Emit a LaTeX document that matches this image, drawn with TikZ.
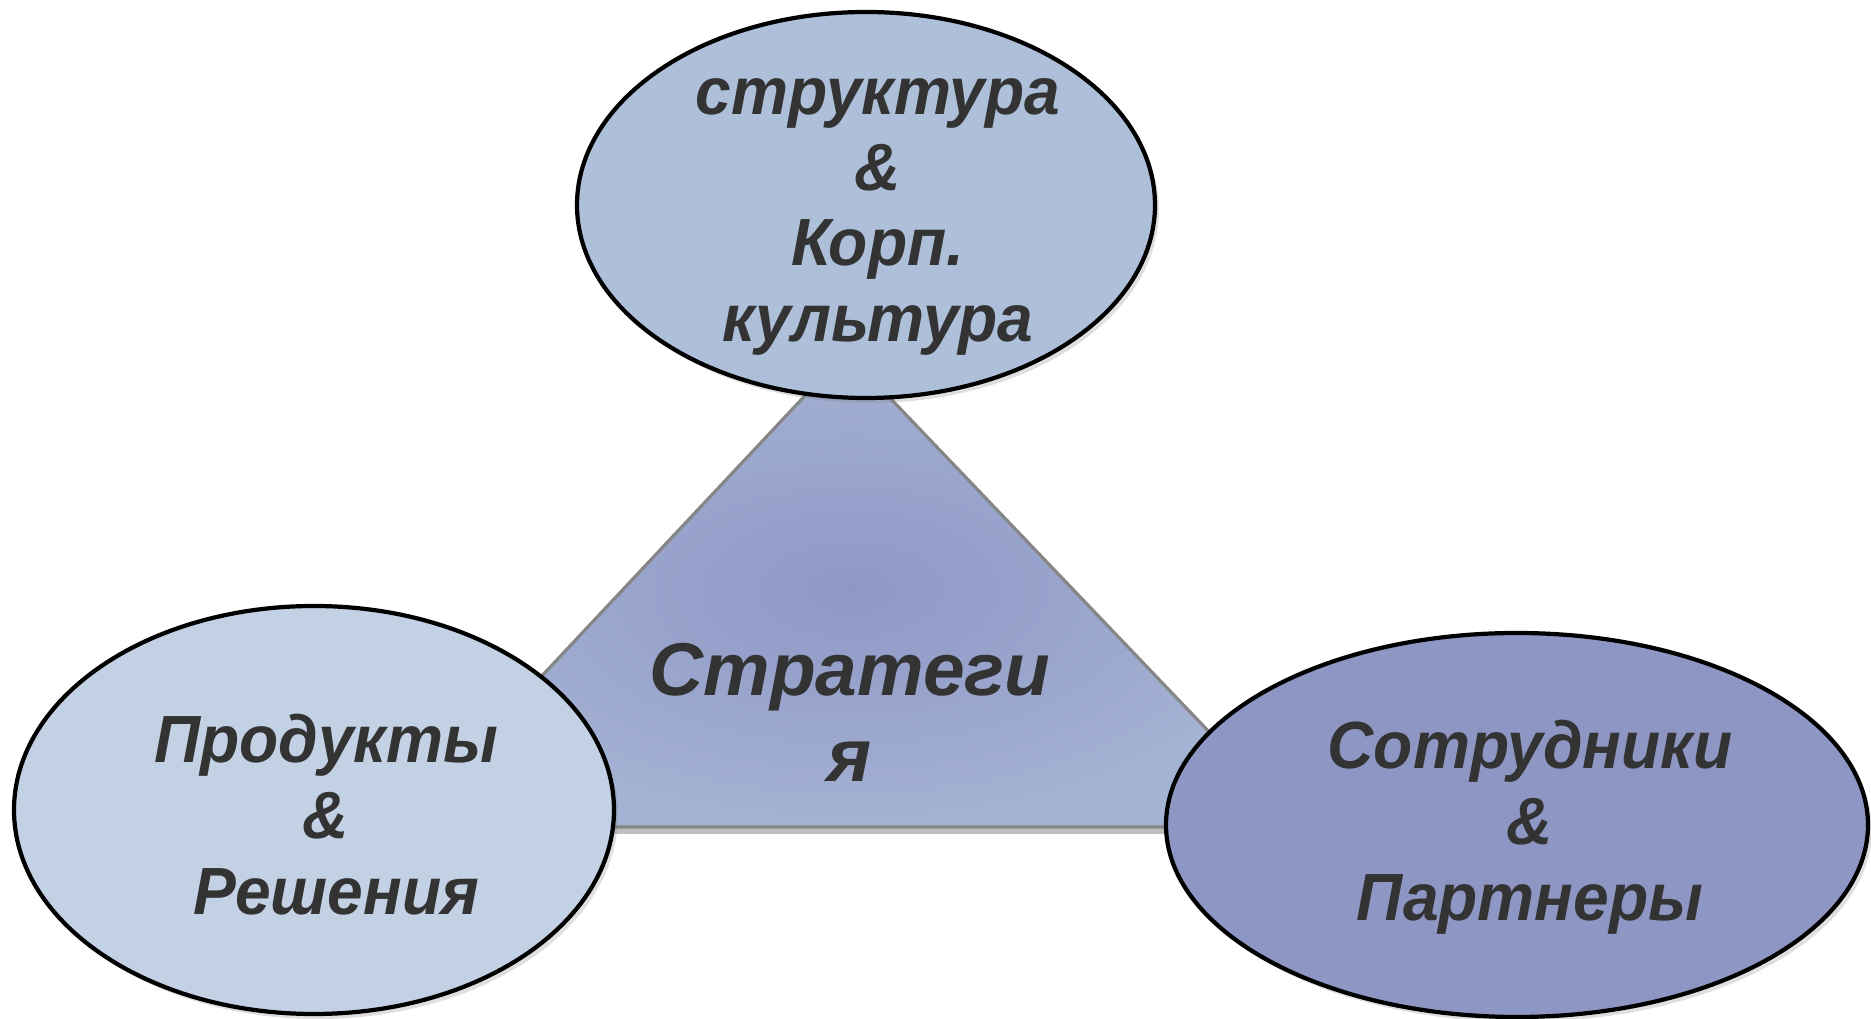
\documentclass[tikz,border=0pt]{standalone}
\usepackage{fontspec}
\setmainfont{Liberation Sans}
\newfontfamily\bubblefont{Liberation Sans}[FakeStretch=0.96]
\usetikzlibrary{shapes.geometric,shadows}
\definecolor{topblue}{HTML}{ADBFD9}
\definecolor{leftblue}{HTML}{C3D1E4}
\definecolor{rightblue}{HTML}{8E96C4}
\definecolor{coreblue}{HTML}{8E98C6}
\definecolor{rimblue}{HTML}{A4B2D3}
\definecolor{inkgray}{HTML}{333333}
\tikzset{bubble/.style={ellipse, draw=black, line width=1.2pt, inner sep=0pt,
    drop shadow={shadow xshift=0.4mm, shadow yshift=-0.5mm, opacity=0.25}}}
\tikzset{bubble text/.style={align=center, text=inkgray, inner sep=0pt,
    font=\bubblefont\fontsize{19}{21.6}\selectfont\bfseries\itshape}}
\tikzset{core text/.style={align=center, text=inkgray, inner sep=0pt,
    font=\fontsize{21.3}{24.5}\selectfont\bfseries\itshape}}
\tikzset{core edge/.style={draw=gray!95, line width=0.9pt,
    drop shadow={shadow xshift=0.5mm, shadow yshift=-0.7mm, opacity=0.5}}}

\begin{document}
\begin{tikzpicture}
      [x=0.1mm, y=-0.1mm]
      \useasboundingbox (0,0) rectangle (1871,1019);

      % central triangle
      \coordinate (apex)  at ( 846, 352);
      \coordinate (baseL) at ( 400, 827);
      \coordinate (baseR) at (1300, 827);
      \shade [core edge, inner color=coreblue, outer color=rimblue]
        (apex) -- (baseL) -- (baseR) -- cycle;
      \node [core text] (core) at (850, 712) {Стратеги\\я};

      % the three bubbles
      \node [bubble, fill=topblue, minimum width=57.8mm, minimum height=38.6mm]
        (culture) at (866, 205) {};
      \node [bubble, fill=leftblue, minimum width=60mm, minimum height=40.8mm]
        (products) at (314, 810) {};
      \node [bubble, fill=rightblue, minimum width=70.2mm, minimum height=38.4mm]
        (staff) at (1517, 825) {};

      \node [bubble text] (culture text)  at (878, 217)
        {структура\\\&\\Корп.\\культура};
      \node [bubble text] (products text) at (326, 815)
        {Продукты\\\&\\\hspace*{0.3em}Решения};
      \node [bubble text] (staff text)    at (1530, 827)
        {Сотрудники\\\&\\Партнеры};
\end{tikzpicture}
\end{document}
